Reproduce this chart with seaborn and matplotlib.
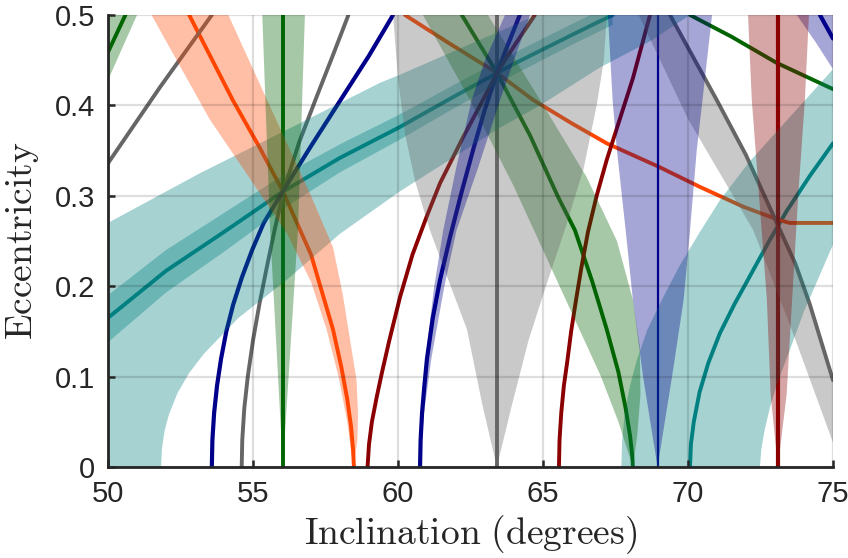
import numpy as np
import pandas as pd
import matplotlib
matplotlib.use("Agg")
import matplotlib.pyplot as plt
import seaborn as sns

# ---------------- data ----------------
# teal resonance 1
teal1_x = [50, 52, 54, 56, 58, 60, 62, 64, 66, 67.4]
teal1_y = [0.165, 0.217, 0.260, 0.304, 0.342, 0.375, 0.411, 0.446, 0.478, 0.500]
teal1_in_lo = [0.138, 0.193, 0.238, 0.285, 0.326, 0.361, 0.398, 0.434, 0.467, 0.489]
teal1_in_hi = [0.190, 0.240, 0.281, 0.322, 0.357, 0.389, 0.424, 0.458, 0.490, 0.512]
teal1_lo_x = [50, 51.83, 51.86, 51.95, 52.1, 52.4, 52.8, 53.3, 54.5, 56.2, 58.0, 60.07, 61.45, 63.5, 64.9, 66.97, 68.69, 70.07]
teal1_lo_y = [0.0, 0.0, 0.02, 0.04, 0.058, 0.082, 0.104, 0.125, 0.165, 0.208, 0.258, 0.305, 0.333, 0.375, 0.400, 0.442, 0.471, 0.500]
teal1_hi_x = [50, 53.17, 56.6, 59.38, 60.07, 62.5, 64.8]
teal1_hi_y = [0.270, 0.325, 0.380, 0.425, 0.434, 0.468, 0.500]

# teal resonance 2
teal2_x = [70.07, 70.1, 70.2, 70.4, 70.7, 71.1, 71.6, 72.2, 72.8, 73.4, 74.2, 75.0]
teal2_y = [0.0, 0.025, 0.05, 0.083, 0.115, 0.148, 0.18, 0.215, 0.25, 0.283, 0.322, 0.358]
teal2_lo_x = [67.7, 67.73, 67.82, 68.0, 68.25, 68.6, 69.1, 69.7, 70.41, 71.1, 72.1, 73.17, 75.0]
teal2_lo_y = [0.0, 0.03, 0.06, 0.09, 0.12, 0.152, 0.185, 0.222, 0.26, 0.295, 0.337, 0.375, 0.44]
teal2_hi_x = [72.48, 72.53, 72.65, 72.82, 73.05, 73.4, 74.0, 75.0]
teal2_hi_y = [0.0, 0.02, 0.042, 0.065, 0.09, 0.12, 0.172, 0.246]

# orange-red curves
orange1_x = [52.8, 54.3, 55.2, 56.03, 57.0, 57.76, 58.05, 58.25, 58.38, 58.45, 58.48]
orange1_y = [0.5, 0.406, 0.355, 0.305, 0.235, 0.152, 0.11, 0.075, 0.045, 0.02, 0.0]
orange1_l_x = [51.5, 53.5, 56.16, 57.0, 57.54, 57.95, 58.25, 58.45]
orange1_l_y = [0.5, 0.385, 0.259, 0.205, 0.152, 0.1, 0.05, 0.0]
orange1_r_x = [54.15, 55.5, 57.0, 57.76, 58.1, 58.4, 58.57, 58.62, 58.6, 58.48]
orange1_r_y = [0.5, 0.405, 0.30, 0.243, 0.19, 0.13, 0.096, 0.06, 0.03, 0.0]
orange2_x = [60.24, 61.8, 63.41, 64.66, 66.0, 67.2, 69.0, 70.4, 71.9, 73.07, 73.5, 75.0]
orange2_y = [0.5, 0.468, 0.436, 0.406, 0.38, 0.358, 0.332, 0.31, 0.288, 0.274, 0.27, 0.27]

# dark green curves
green_v_x = [56.03, 56.03]
green_v_y = [0.0, 0.5]
green_v_l_x = [56.03, 55.87, 55.59, 55.32]
green_v_r_x = [56.03, 56.22, 56.55, 56.79]
green_v_e_y = [0.0, 0.096, 0.262, 0.5]
green2_x = [62.2, 63.41, 64.55, 65.5, 66.1, 66.7, 67.2, 67.6, 67.85, 68.0, 68.08, 68.1]
green2_y = [0.5, 0.436, 0.367, 0.30, 0.262, 0.205, 0.152, 0.105, 0.065, 0.035, 0.012, 0.0]
green2_l_x = [60.86, 62.48, 64.0, 65.0, 66.0, 67.0, 67.6, 67.9, 68.1]
green2_l_y = [0.5, 0.406, 0.31, 0.24, 0.17, 0.10, 0.05, 0.02, 0.0]
green2_r_x = [63.1, 64.9, 66.5, 67.55, 68.1, 68.34, 68.36, 68.25, 68.1]
green2_r_y = [0.5, 0.406, 0.321, 0.25, 0.185, 0.133, 0.08, 0.035, 0.0]
green3_x = [50.0, 50.6]
green3_y = [0.459, 0.5]
green3_b_x = [50.0, 51.0, 50.0]
green3_b_y = [0.428, 0.5, 0.5]
green4_x = [70.07, 71.5, 73.06, 75.0]
green4_y = [0.5, 0.476, 0.447, 0.418]

# gray curves
gray_v_x = [63.41, 63.41]
gray_v_y = [0.0, 0.5]
gray_v_l_x = [63.41, 62.9, 62.38, 61.7, 61.1, 60.6, 60.25, 60.0, 59.83]
gray_v_l_y = [0.0, 0.07, 0.152, 0.21, 0.262, 0.315, 0.367, 0.43, 0.5]
gray_v_r_x = [63.41, 63.9, 64.5, 65.1, 65.75, 66.4, 66.85, 67.1, 67.2]
gray_v_r_y = [0.0, 0.065, 0.14, 0.2, 0.262, 0.33, 0.4, 0.45, 0.5]
gray1_x = [54.61, 54.63, 54.7, 54.82, 55.0, 55.22, 55.47, 55.75, 56.05, 56.6, 57.2, 57.75, 58.29]
gray1_y = [0.0, 0.03, 0.065, 0.1, 0.14, 0.18, 0.22, 0.263, 0.305, 0.36, 0.41, 0.455, 0.5]
gray2_x = [50.0, 51.79, 53.58]
gray2_y = [0.336, 0.42, 0.5]
gray3_x = [69.38, 70.99, 72.0, 73.06, 73.7, 74.2, 75.0]
gray3_y = [0.5, 0.406, 0.345, 0.27, 0.225, 0.18, 0.096]
gray3_lo_x = [68.3, 70.0, 72.25, 73.6, 75.0]
gray3_lo_y = [0.5, 0.385, 0.262, 0.15, 0.027]

# navy curves
navy1_x = [53.58, 53.6, 53.66, 53.76, 53.9, 54.08, 54.32, 54.62, 54.97, 55.37, 56.03, 57.0, 58.0, 59.0, 59.83]
navy1_y = [0.0, 0.03, 0.06, 0.09, 0.12, 0.15, 0.18, 0.21, 0.24, 0.27, 0.305, 0.355, 0.405, 0.455, 0.5]
navy2_x = [60.76, 60.78, 60.83, 60.91, 61.0, 61.2, 61.45, 61.8, 62.2, 62.6, 63.0, 63.41, 63.8, 64.2]
navy2_y = [0.0, 0.03, 0.06, 0.09, 0.12, 0.165, 0.207, 0.255, 0.305, 0.352, 0.396, 0.436, 0.468, 0.5]
navy2_l_x = [60.76, 60.8, 60.95, 61.25, 61.56, 62.0, 62.54, 63.0, 63.69]
navy2_l_y = [0.0, 0.06, 0.12, 0.20, 0.262, 0.33, 0.406, 0.45, 0.5]
navy2_r_x = [60.76, 60.9, 61.15, 61.6, 62.02, 62.75, 63.52, 64.0, 64.55]
navy2_r_y = [0.0, 0.06, 0.12, 0.20, 0.262, 0.33, 0.406, 0.45, 0.5]
navy_v_x = [68.95, 68.95]
navy_v_y = [0.0, 0.5]
navy_v_l_x = [68.95, 68.45, 68.1, 67.85, 67.55, 67.4, 67.24]
navy_v_r_x = [68.95, 69.45, 69.85, 70.07, 70.3, 70.5, 70.83]
navy_v_e_y = [0.0, 0.10, 0.185, 0.262, 0.35, 0.406, 0.5]
navy3_x = [74.55, 75.0]
navy3_y = [0.5, 0.474]
navy3_b_x = [73.75, 74.4, 75.0, 75.0]
navy3_b_y = [0.5, 0.47, 0.44, 0.5]

# maroon curves
maroon1_x = [58.95, 59.0, 59.1, 59.27, 59.45, 59.7, 60.07, 60.5, 61.0, 61.45, 62.2, 62.93, 63.41, 64.05, 64.72]
maroon1_y = [0.0, 0.025, 0.05, 0.078, 0.105, 0.14, 0.188, 0.235, 0.278, 0.314, 0.362, 0.406, 0.436, 0.468, 0.5]
maroon2_x = [65.55, 65.57, 65.63, 65.72, 65.83, 65.97, 66.14, 66.32, 66.55, 66.85, 67.2, 67.6, 68.1, 68.69]
maroon2_y = [0.0, 0.03, 0.06, 0.09, 0.115, 0.15, 0.185, 0.22, 0.26, 0.3, 0.34, 0.38, 0.43, 0.5]
maroon_v_x = [73.1, 73.1]
maroon_v_y = [0.0, 0.5]
maroon_v_l_x = [73.1, 72.85, 72.72, 72.45, 72.2, 72.07]
maroon_v_r_x = [73.1, 73.4, 73.59, 73.8, 74.03, 74.17]
maroon_v_e_y = [0.0, 0.08, 0.185, 0.30, 0.406, 0.5]

x_ticks = [50, 55, 60, 65, 70, 75]
y_ticks = [0, 0.1, 0.2, 0.3, 0.4, 0.5]
y_tick_labels = ["0", "0.1", "0.2", "0.3", "0.4", "0.5"]

TEAL = "#008080"
ORANGE = "#FF4500"
GREEN = "#006400"
GRAY = "#666666"
NAVY = "#00008B"
MAROON = "#8B0000"

# ---------------- figure ----------------
sns.set_style("ticks")
plt.rcParams["font.family"] = ["Liberation Sans", "DejaVu Sans"]
plt.rcParams["mathtext.fontset"] = "cm"

fig = plt.figure(figsize=(8.48, 5.58), dpi=100)
ax = fig.add_axes([108 / 848, (558 - 467) / 558, (833 - 108) / 848, (467 - 15) / 558])


def line(xs, ys, color, lw=2.8):
    d = pd.DataFrame({"x": xs, "y": ys})
    sns.lineplot(data=d, x="x", y="y", sort=False, estimator=None, color=color,
                 linewidth=lw, ax=ax, zorder=1.5)


def band(x1, y1, x2, y2, color, alpha=0.35):
    px = list(x1) + list(x2)[::-1]
    py = list(y1) + list(y2)[::-1]
    ax.fill(px, py, color=color, alpha=alpha, lw=0, zorder=2)


# lines
line(teal1_x, teal1_y, TEAL)
line(teal2_x, teal2_y, TEAL)
line(orange1_x, orange1_y, ORANGE)
line(orange2_x, orange2_y, ORANGE)
line(green_v_x, green_v_y, GREEN)
line(green2_x, green2_y, GREEN)
line(green3_x, green3_y, GREEN)
line(green4_x, green4_y, GREEN)
line(gray_v_x, gray_v_y, GRAY)
line(gray1_x, gray1_y, GRAY)
line(gray2_x, gray2_y, GRAY)
line(gray3_x, gray3_y, GRAY)
line(navy1_x, navy1_y, NAVY, 3.0)
line(navy2_x, navy2_y, NAVY, 3.0)
line(navy_v_x, navy_v_y, NAVY, 1.6)
line(navy3_x, navy3_y, NAVY, 3.0)
line(maroon1_x, maroon1_y, MAROON)
line(maroon2_x, maroon2_y, MAROON)
line(maroon_v_x, maroon_v_y, MAROON, 3.0)

# bands
band(teal1_lo_x, teal1_lo_y, teal1_hi_x, teal1_hi_y, TEAL)
band(teal1_x, teal1_in_lo, teal1_x, teal1_in_hi, TEAL)
band(teal2_lo_x, teal2_lo_y, teal2_hi_x, teal2_hi_y, TEAL)
band(orange1_l_x, orange1_l_y, orange1_r_x, orange1_r_y, ORANGE)
band(green_v_l_x, green_v_e_y, green_v_r_x, green_v_e_y, GREEN)
band(green2_l_x, green2_l_y, green2_r_x, green2_r_y, GREEN)
ax.fill(green3_b_x, green3_b_y, color=GREEN, alpha=0.35, lw=0, zorder=2)
band(gray_v_l_x, gray_v_l_y, gray_v_r_x, gray_v_r_y, GRAY)
band(gray3_lo_x, gray3_lo_y, gray3_x, gray3_y, GRAY)
band(navy2_l_x, navy2_l_y, navy2_r_x, navy2_r_y, NAVY)
band(navy_v_l_x, navy_v_e_y, navy_v_r_x, navy_v_e_y, NAVY)
ax.fill(navy3_b_x, navy3_b_y, color=NAVY, alpha=0.35, lw=0, zorder=2)
band(maroon_v_l_x, maroon_v_e_y, maroon_v_r_x, maroon_v_e_y, MAROON)

# axes styling
ax.set_xlim(50, 75)
ax.set_ylim(0, 0.5)
ax.set_xticks(x_ticks)
ax.set_xticklabels([str(v) for v in x_ticks])
ax.set_yticks(y_ticks)
ax.set_yticklabels(y_tick_labels)
ax.set_axisbelow(False)
ax.grid(True, color="black", alpha=0.13, lw=1.6)
for s in ["top", "right"]:
    ax.spines[s].set_visible(False)
for s in ["left", "bottom"]:
    ax.spines[s].set_color("#262626")
    ax.spines[s].set_linewidth(2.0)
    ax.spines[s].set_zorder(5)
ax.tick_params(direction="in", length=5, width=1.8, color="#262626",
               labelsize=21, labelcolor="#262626", pad=9)
ax.set_xlabel(r"$\mathrm{Inclination\ (degrees)}$", fontsize=27, color="#262626", labelpad=4)
ax.set_ylabel(r"$\mathrm{Eccentricity}$", fontsize=27, color="#262626", labelpad=10)

fig.savefig("out.png", dpi=100)
